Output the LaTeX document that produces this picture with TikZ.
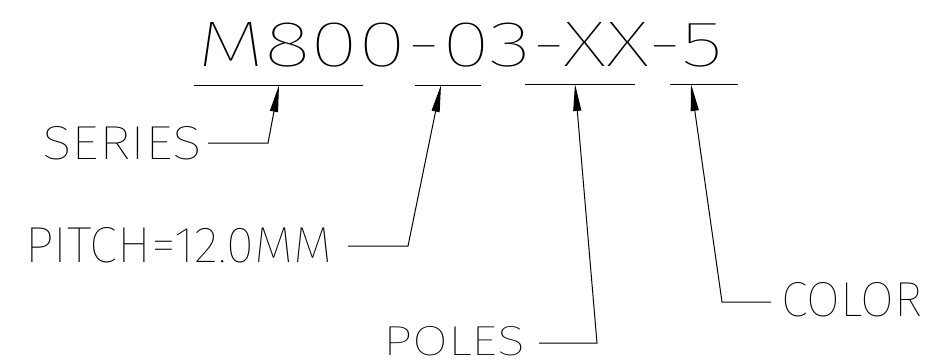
\documentclass[tikz,border=0pt]{standalone}
\usepackage{fontspec}
\usepackage{graphicx}
\usetikzlibrary{arrows.meta}
\newfontfamily\cadfont{Fira Sans Thin}
\tikzset{
  lbl/.style={inner sep=0pt, outer sep=0pt, anchor=south west, font=\cadfont},
  uline/.style={line width=1pt},
  leader/.style={line width=1pt, -{Triangle[length=27pt, width=8pt]}},
}
\begin{document}
\begin{tikzpicture}[x=1pt, y=-1pt]
\useasboundingbox (0,0) rectangle (929,359);
% labels
\node[lbl] (title) at (197,67) {\resizebox{526pt}{44pt}{M800-03-XX-5}};
\node[lbl] (series) at (42,160) {\resizebox{160pt}{33pt}{SERIES}};
\node[lbl] (pitch) at (25,263) {\resizebox{307pt}{35pt}{PITCH=12.0MM}};
\node[lbl] (poles) at (383,356) {\resizebox{142pt}{29pt}{POLES}};
\node[lbl] (color) at (781,317) {\resizebox{141pt}{34pt}{COLOR}};
% underlines
\coordinate (u1a) at (194,85); \coordinate (u1b) at (363,85);
\coordinate (u2a) at (415,85); \coordinate (u2b) at (481,85);
\coordinate (u3a) at (525,84); \coordinate (u3b) at (635,84);
\coordinate (u4a) at (670,84); \coordinate (u4b) at (738,84);
\draw[uline] (u1a) -- (u1b);
\draw[uline] (u2a) -- (u2b);
\draw[uline] (u3a) -- (u3b);
\draw[uline] (u4a) -- (u4b);
% arrow tips
\coordinate (t1) at (279,85);
\coordinate (t2) at (441,85);
\coordinate (t3) at (575,84);
\coordinate (t4) at (691,84);
% leader starts and corners
\coordinate (s1) at (208,143); \coordinate (c1) at (268,143);
\coordinate (s2) at (348,246); \coordinate (c2) at (408,246);
\coordinate (s3) at (539,343); \coordinate (c3) at (597,343);
\coordinate (s4) at (771,302); \coordinate (c4) at (722,302);
\draw[leader] (s1) -- (c1) -- (t1);
\draw[leader] (s2) -- (c2) -- (t2);
\draw[leader] (s3) -- (c3) -- (t3);
\draw[leader] (s4) -- (c4) -- (t4);
\end{tikzpicture}
\end{document}
